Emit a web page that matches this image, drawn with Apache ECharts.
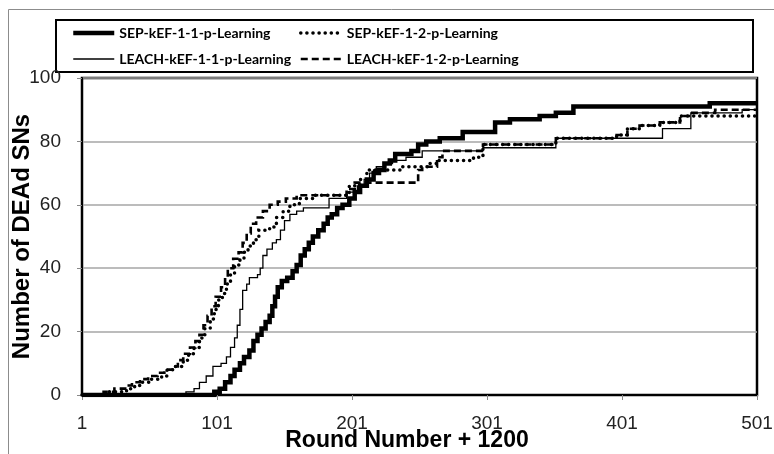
<!DOCTYPE html>
<html><head><meta charset="utf-8">
<script src="https://cdn.jsdelivr.net/npm/echarts@6/dist/echarts.min.js"></script>
<style>html,body{margin:0;padding:0;background:#fff}#c{width:774px;height:454px}</style>
</head><body><div id="c"></div>
<script>
const seriesNames = ['SEP-kEF-1-1-p-Learning','SEP-kEF-1-2-p-Learning','LEACH-kEF-1-1-p-Learning','LEACH-kEF-1-2-p-Learning'];
const xTickLabels = [1,101,201,301,401,501];
const yTickLabels = [0,20,40,60,80,100];

const sep11Rounds = [1,95,99,103,107,111,114,118,121,125,128,131,134,137,140,142,144,146,149,153,157,160,163,166,169,172,176,180,183,186,190,194,199,203,207,212,217,221,225,229,233,245,250,256,266,283,307,318,340,352,365,466,501];
const sep11Values = [0,0,1,2,4,6,8,10,12,14,17,19,21,23,25,28,31,34,36,37,39,41,44,46,48,50,52,54,56,57,59,60,62,64,66,68,70,71,73,74,76,77,79,80,81,83,86,87,88,89,91,92,92];

const sep12Rounds = [1,16,18,30,34,40,45,52,60,64,70,76,80,84,88,92,96,99,102,105,108,111,114,118,121,124,128,132,140,145,150,155,162,172,195,199,207,212,237,258,264,291,298,352,397,405,414,429,444,501];
const sep12Values = [0,0,1,1,2,3,4,5,6,8,9,11,13,15,18,21,24,27,30,32,35,38,41,43,45,47,49,52,53,56,58,60,62,63,63,66,68,71,72,73,74,75,79,81,82,84,85,86,88,88];

const leach11Rounds = [1,75,78,84,88,93,98,104,108,111,114,116,118,120,123,125,131,133,135,138,142,145,148,151,155,160,165,184,197,205,210,214,217,219,225,231,241,253,298,352,431,452,490,501];
const leach11Values = [0,0,1,2,4,6,9,10,12,15,18,22,27,33,35,37,38,40,44,46,48,49,52,55,57,58,59,62,64,66,68,70,71,72,73,74,75,77,78,81,84,89,90,90];

const leach12Rounds = [1,14,17,25,33,38,44,50,57,62,68,72,76,81,85,88,91,94,97,100,104,107,109,113,117,120,123,126,130,135,140,146,152,160,192,197,203,247,250,253,264,268,298,352,397,405,414,429,444,453,470,501];
const leach12Values = [0,0,1,2,3,4,5,6,7,8,9,11,13,15,17,19,22,25,28,31,34,37,40,43,45,48,51,54,56,58,60,61,62,63,63,65,67,67,71,72,75,77,79,81,82,84,85,86,88,89,90,90];

const TITLE_FONT = '"Liberation Sans",Arial,sans-serif';
const LEGEND_FONT = 'Lato,"Liberation Sans",sans-serif';

function pts(r, v){ return r.map((x,i)=>[x-1, v[i]]); }

const styles = [
  {width:4.5, type:'solid', cap:'butt'},
  {width:3.5, type:[0.1,6], cap:'round'},
  {width:1.3, type:'solid', cap:'butt'},
  {width:2.6, type:[7,4], cap:'butt'}
];
const dataSets = [pts(sep11Rounds,sep11Values), pts(sep12Rounds,sep12Values), pts(leach11Rounds,leach11Values), pts(leach12Rounds,leach12Values)];

function legendItem(i){
  return {name:seriesNames[i], itemStyle:{opacity:0},
    lineStyle:{color:'#000', width:styles[i].width, type:styles[i].type, cap:styles[i].cap}};
}
const legendText = {fontFamily:LEGEND_FONT, fontWeight:'bold', fontSize:14, color:'#000'};

const chart = echarts.init(document.getElementById('c'), null, {renderer:'canvas'});
chart.setOption({
  animation:false,
  backgroundColor:'#fff',
  graphic:[
    {type:'rect', left:6, top:7, shape:{width:800,height:500}, style:{fill:'none', stroke:'#8c8c8c', lineWidth:1}, silent:true},
    {type:'rect', left:55, top:19, shape:{width:697,height:52}, style:{fill:'#fff', stroke:'#000', lineWidth:2}, z:-1, silent:true}
  ],
  legend:[
    {data:[legendItem(0),legendItem(2)], orient:'vertical', left:71, top:26, itemWidth:41, itemHeight:14, itemGap:12, padding:0,
     textStyle:legendText},
    {data:[legendItem(1),legendItem(3)], orient:'vertical', left:299, top:26, itemWidth:41, itemHeight:14, itemGap:12, padding:0,
     textStyle:legendText}
  ],
  grid:{left:82, right:17, top:78, bottom:59, show:true, borderColor:'#000', borderWidth:2.5, outerBoundsMode:'none', containLabel:false},
  xAxis:{type:'value', min:0, max:500, interval:100,
    name:'Round Number + 1200', nameLocation:'middle', nameGap:34, nameMoveOverlap:false,
    nameTextStyle:{fontFamily:TITLE_FONT, fontWeight:'bold', fontSize:23, color:'#000', padding:[0,25,0,0]},
    axisLine:{lineStyle:{color:'#000', width:2}},
    axisTick:{show:true, length:5, lineStyle:{color:'#888'}},
    axisLabel:{fontFamily:TITLE_FONT, fontSize:19, color:'#222', margin:19, formatter:v=>String(v+1)},
    splitLine:{show:false}},
  yAxis:{type:'value', min:0, max:100, interval:20,
    name:'Number of DEAd SNs', nameLocation:'middle', nameGap:48, nameMoveOverlap:false,
    nameTextStyle:{fontFamily:TITLE_FONT, fontWeight:'bold', fontSize:24, color:'#000'},
    axisLine:{show:true, lineStyle:{color:'#000', width:2}},
    axisTick:{show:true, length:5, lineStyle:{color:'#888'}},
    axisLabel:{fontFamily:TITLE_FONT, fontSize:19, color:'#222', margin:21},
    splitLine:{show:true, lineStyle:{color:'#a6a6a6', width:1.5}}},
  series: seriesNames.map((n,i)=>({
    name:n, type:'line', step:'end', symbol:'none', data:dataSets[i],
    lineStyle:{color:'#000', width:styles[i].width, type:styles[i].type, cap:styles[i].cap, join:'miter'},
    itemStyle:{color:'#000'}, z: 10-i
  }))
});
</script></body></html>
